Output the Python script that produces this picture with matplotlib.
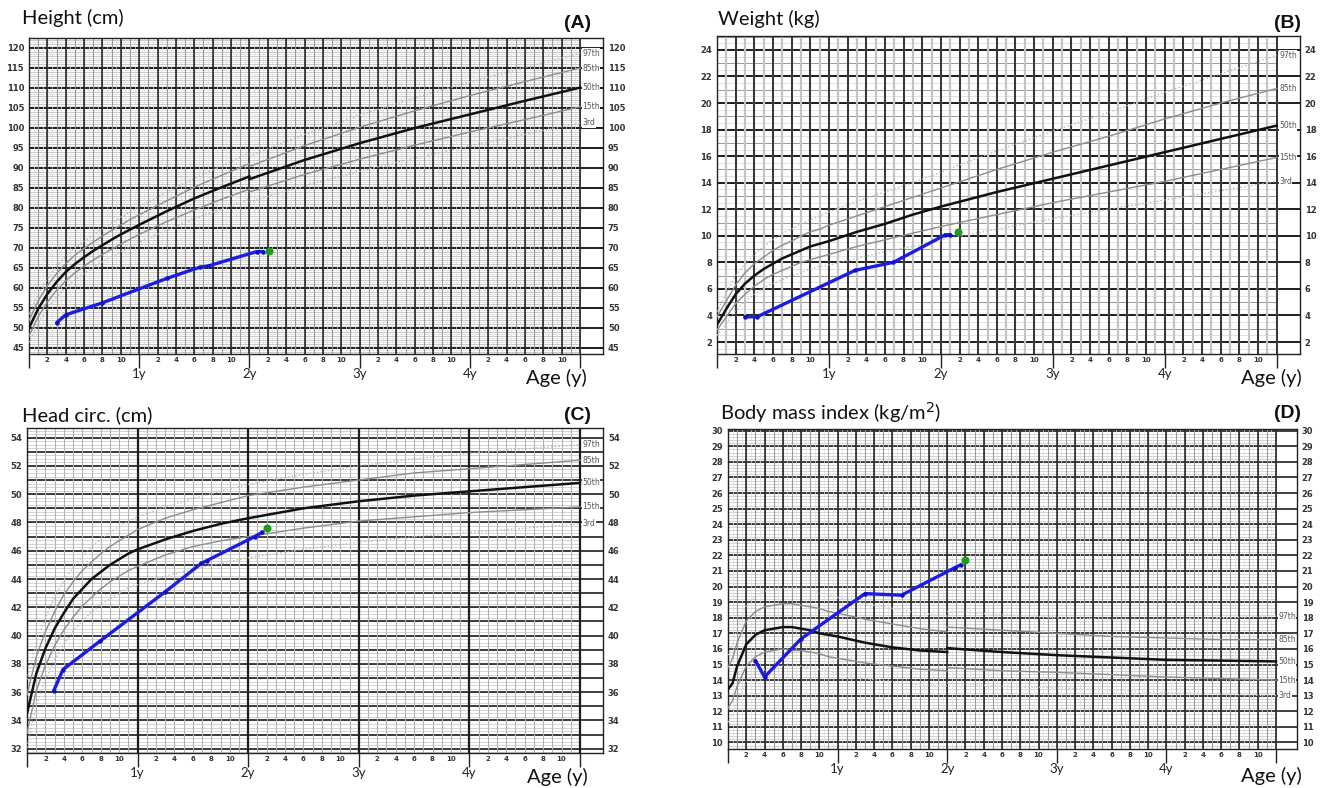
import matplotlib
matplotlib.use("Agg")
import matplotlib.pyplot as plt
import numpy as np

plt.rcParams['font.family'] = ['DejaVu Sans']

# ------------------------------------------------------------------ data
PCT_NAMES = ['97th', '85th', '50th', '15th', '3rd']

# Height (cm): recumbent length 0-24 months, standing height 24-60 months
LEN_AGE = [0, 1, 2, 3, 4, 5, 6, 7, 8, 9, 10, 11, 12, 15, 18, 21, 24]
LEN_P97 = [53.4, 58.4, 62.2, 65.3, 67.8, 69.9, 71.6, 73.2, 74.7, 76.2, 77.6, 78.9, 80.2, 83.8, 87.3, 90.5, 93.6]
LEN_P85 = [51.8, 56.7, 60.5, 63.5, 66.0, 68.1, 69.8, 71.4, 72.9, 74.3, 75.6, 77.0, 78.2, 81.7, 85.1, 88.1, 91.0]
LEN_P50 = [49.9, 54.7, 58.4, 61.4, 63.9, 65.9, 67.6, 69.2, 70.6, 72.0, 73.3, 74.5, 75.7, 79.1, 82.3, 85.1, 87.8]
LEN_P15 = [47.9, 52.7, 56.4, 59.3, 61.7, 63.7, 65.4, 66.9, 68.3, 69.6, 70.9, 72.1, 73.3, 76.5, 79.4, 82.1, 84.6]
LEN_P3 = [46.3, 51.1, 54.7, 57.6, 60.0, 61.9, 63.6, 65.1, 66.5, 67.7, 69.0, 70.2, 71.3, 74.4, 77.2, 79.7, 82.1]
HGT_AGE = [24, 30, 36, 42, 48, 54, 60]
HGT_P97 = [92.9, 98.3, 103.1, 107.4, 111.4, 115.0, 118.6]
HGT_P85 = [90.3, 95.5, 100.1, 104.2, 108.0, 111.5, 114.9]
HGT_P50 = [87.1, 91.9, 96.1, 99.9, 103.3, 106.7, 110.0]
HGT_P15 = [83.9, 88.3, 92.1, 95.6, 98.9, 102.0, 105.2]
HGT_P3 = [81.4, 85.5, 89.1, 92.4, 95.4, 98.3, 101.2]
PT_HT_AGE = [3.0, 4.0, 8.0, 15.0, 18.6, 19.5, 24.8, 25.5]
PT_HT = [51.2, 53.2, 56.2, 62.3, 65.1, 65.4, 69.0, 69.0]
LAST_HT_AGE, LAST_HT = 26.1, 69.1
HT_TICKS = [45, 50, 55, 60, 65, 70, 75, 80, 85, 90, 95, 100, 105, 110, 115, 120]

# Weight (kg)
WT_AGE = [0, 1, 2, 3, 4, 5, 6, 7, 8, 9, 10, 11, 12, 15, 18, 21, 24, 30, 36, 42, 48, 54, 60]
WT_P97 = [4.3, 5.7, 7.0, 7.9, 8.6, 9.2, 9.7, 10.2, 10.5, 10.9, 11.2, 11.5, 11.8, 12.6, 13.3, 14.0, 14.8, 16.4, 17.9, 19.3, 20.8, 22.2, 23.6]
WT_P85 = [3.9, 5.1, 6.3, 7.2, 7.9, 8.4, 8.9, 9.3, 9.6, 10.0, 10.3, 10.5, 10.8, 11.5, 12.2, 12.9, 13.6, 15.0, 16.3, 17.5, 18.8, 20.0, 21.1]
WT_P50 = [3.3, 4.5, 5.6, 6.4, 7.0, 7.5, 7.9, 8.3, 8.6, 8.9, 9.2, 9.4, 9.6, 10.3, 10.9, 11.6, 12.2, 13.3, 14.3, 15.3, 16.3, 17.3, 18.3]
WT_P15 = [2.9, 3.9, 4.9, 5.6, 6.2, 6.7, 7.1, 7.4, 7.7, 8.0, 8.2, 8.4, 8.6, 9.2, 9.7, 10.2, 10.7, 11.6, 12.5, 13.3, 14.1, 15.0, 15.9]
WT_P3 = [2.5, 3.4, 4.4, 5.1, 5.6, 6.1, 6.4, 6.7, 7.0, 7.2, 7.5, 7.7, 7.8, 8.3, 8.8, 9.2, 9.7, 10.5, 11.3, 12.0, 12.7, 13.4, 14.1]
PT_WT_AGE = [3.0, 4.3, 14.8, 18.9, 24.4, 25.0]
PT_WT = [3.9, 3.9, 7.4, 8.0, 10.05, 10.1]
LAST_WT_AGE, LAST_WT = 25.8, 10.3
WT_TICKS = [2, 4, 6, 8, 10, 12, 14, 16, 18, 20, 22, 24]

# Head circumference (cm)
HC_AGE = [0, 1, 2, 3, 4, 5, 6, 7, 8, 9, 10, 11, 12, 15, 18, 21, 24, 30, 36, 42, 48, 54, 60]
HC_P97 = [36.9, 39.5, 41.3, 42.7, 43.9, 44.8, 45.6, 46.3, 46.8, 47.3, 47.7, 48.1, 48.4, 49.1, 49.7, 50.2, 50.7, 51.4, 52.0, 52.5, 52.9, 53.2, 53.5]
HC_P85 = [35.8, 38.5, 40.3, 41.7, 42.9, 43.8, 44.6, 45.2, 45.8, 46.3, 46.7, 47.1, 47.5, 48.3, 48.9, 49.4, 49.9, 50.5, 51.0, 51.5, 51.8, 52.1, 52.4]
HC_P50 = [34.5, 37.3, 39.1, 40.5, 41.6, 42.6, 43.3, 44.0, 44.5, 45.0, 45.4, 45.8, 46.1, 46.8, 47.4, 47.9, 48.3, 49.0, 49.5, 49.9, 50.2, 50.5, 50.8]
HC_P15 = [33.1, 36.1, 37.9, 39.3, 40.4, 41.3, 42.1, 42.7, 43.3, 43.8, 44.2, 44.6, 44.9, 45.7, 46.3, 46.7, 47.0, 47.6, 48.1, 48.4, 48.7, 48.9, 49.1]
HC_P3 = [32.1, 35.1, 36.9, 38.3, 39.4, 40.3, 41.0, 41.7, 42.2, 42.6, 43.0, 43.4, 43.6, 44.2, 44.7, 45.1, 45.5, 46.1, 46.6, 47.0, 47.3, 47.6, 47.9]
PT_HC_AGE = [2.9, 3.9, 7.9, 15.0, 18.9, 19.5, 24.7, 25.5]
PT_HC = [36.1, 37.6, 39.6, 43.1, 45.1, 45.3, 47.0, 47.3]
LAST_HC_AGE, LAST_HC = 26.0, 47.6
HC_TICKS = [32, 34, 36, 38, 40, 42, 44, 46, 48, 50, 52, 54]

# Body mass index (kg/m2): length-based 0-24, height-based 24-60
BMIL_AGE = [0, 0.5, 1, 2, 3, 4, 5, 6, 7, 8, 9, 10, 11, 12, 15, 18, 21, 24]
BMIL_P97 = [15.6, 16.3, 17.3, 18.8, 19.4, 19.7, 19.8, 19.9, 19.9, 19.9, 19.8, 19.6, 19.5, 19.3, 18.9, 18.6, 18.3, 18.1]
BMIL_P85 = [14.8, 15.4, 16.4, 17.8, 18.4, 18.7, 18.8, 18.9, 18.9, 18.8, 18.7, 18.6, 18.4, 18.3, 17.9, 17.6, 17.3, 17.1]
BMIL_P50 = [13.4, 13.8, 14.9, 16.3, 16.9, 17.2, 17.3, 17.4, 17.4, 17.3, 17.2, 17.0, 16.9, 16.8, 16.4, 16.1, 15.9, 15.8]
BMIL_P15 = [12.2, 12.7, 13.6, 14.9, 15.5, 15.8, 15.9, 16.0, 15.9, 15.9, 15.8, 15.7, 15.5, 15.4, 15.1, 14.9, 14.7, 14.6]
BMIL_P3 = [11.3, 11.8, 12.6, 13.9, 14.5, 14.7, 14.9, 14.9, 14.9, 14.9, 14.8, 14.7, 14.6, 14.4, 14.1, 13.9, 13.7, 13.6]
BMIH_AGE = [24, 30, 36, 42, 48, 54, 60]
BMIH_P97 = [18.4, 18.2, 18.0, 17.9, 17.9, 18.0, 18.1]
BMIH_P85 = [17.4, 17.2, 17.0, 16.8, 16.7, 16.6, 16.6]
BMIH_P50 = [16.05, 15.8, 15.6, 15.45, 15.3, 15.25, 15.2]
BMIH_P15 = [14.8, 14.6, 14.5, 14.35, 14.2, 14.1, 14.0]
BMIH_P3 = [13.8, 13.6, 13.5, 13.35, 13.2, 13.1, 13.0]
PT_BMI_AGE = [3.0, 4.0, 8.0, 15.0, 19.0, 24.8, 25.5]
PT_BMI = [15.25, 14.2, 16.65, 19.55, 19.45, 21.2, 21.4]
LAST_BMI_AGE, LAST_BMI = 26.0, 21.7
BMI_TICKS = list(range(10, 31))

MONTH_LABELS = ['2', '4', '6', '8', '10']
YEAR_LABELS = ['', '1y', '2y', '3y', '4y', '']

# ------------------------------------------------------------------ figure
W, H = 1320, 788
fig = plt.figure(figsize=(W / 100, H / 100), dpi=100)


def add_ax(l, t, r, b):
    return fig.add_axes([l / W, 1 - b / H, (r - l) / W, (b - t) / H])


PCT_STYLE = {
    '97th': dict(color='#b8b8b8', lw=1.0, ls=':'),
    '85th': dict(color='#8c8c8c', lw=1.0, ls='-'),
    '50th': dict(color='#111111', lw=1.8, ls='-'),
    '15th': dict(color='#8c8c8c', lw=1.0, ls='-'),
    '3rd': dict(color='#b8b8b8', lw=1.0, ls=':'),
}


def setup(ax, ylim, xmax, hlev, vlev, yticks):
    ax.set_xlim(0, xmax)
    ax.set_ylim(*ylim)
    ylo, yhi = ylim
    z = 1
    for step, color, lw, full in hlev:
        vals = np.arange(np.ceil(ylo / step) * step, yhi + 1e-9, step)
        ax.hlines(vals, 0, xmax if full else 60, colors=color, lw=lw, zorder=z)
        z += 0.1
    for step, color, lw in vlev:
        vals = np.arange(step, 60 + 1e-9, step)
        ax.vlines(vals, ylo, yhi, colors=color, lw=lw, zorder=z)
        z += 0.1
    for s in ax.spines.values():
        s.set_color('#222222')
        s.set_linewidth(1.0)
    ax.set_yticks(yticks)
    ax.set_yticklabels([str(v) for v in yticks])
    ax.tick_params(axis='y', length=0, labelleft=True, labelright=True,
                   labelsize=6, pad=3.5, labelcolor='#333333')
    for t in ax.yaxis.get_major_ticks():
        t.label1.set_fontweight('bold')
        t.label2.set_fontweight('bold')
    ax.set_xticks([0, 12, 24, 36, 48, 60])
    ax.set_xticklabels(YEAR_LABELS, fontsize=9.5, family='Lato', color='#222222')
    ax.tick_params(axis='x', which='major', length=10, width=1.0, color='#222222', pad=0.0)
    minor = [12 * y + int(m) for y in range(5) for m in MONTH_LABELS]
    ax.set_xticks(minor, minor=True)
    ax.set_xticklabels(MONTH_LABELS * 5, minor=True, fontsize=5,
                       fontweight='bold', color='#333333')
    ax.tick_params(axis='x', which='minor', length=0, pad=2.5)


def percentiles(ax, ages, series, faint=False):
    for name, vals in zip(PCT_NAMES, series):
        st = dict(PCT_STYLE[name])
        if faint and name in ('97th', '3rd'):
            st['color'] = '#d0d0d0'
        ax.plot(ages, vals, zorder=5, **st)


def pct_labels(ax, series):
    for name, vals in zip(PCT_NAMES, series):
        ax.text(60.25, vals[-1], name, fontsize=5.5, color='#555555',
                ha='left', va='center', zorder=6,
                bbox=dict(boxstyle='square,pad=0.05', fc='white', ec='none'))


def patient(ax, ages, vals, la, lv):
    ax.plot(ages, vals, color='#1c1ce8', lw=2.4, marker='o', ms=3.2,
            mfc='#1010c0', mec='none', zorder=8, solid_capstyle='round')
    ax.plot([la], [lv], 'o', color='#1f9a1f', ms=4.8, zorder=9)


BLK, MID, LGT, VLT = '#1e1e1e', '#9a9a9a', '#c4c4c4', '#dddddd'

# ---------------- (A) Height
axA = add_ax(29, 38, 603, 354)
setup(axA, (43.4, 122.4), 62.5,
      [(0.5, VLT, 0.5, False), (1, LGT, 0.6, False), (5, BLK, 1.4, True)],
      [(0.5, VLT, 0.5), (1, MID, 0.8), (2, BLK, 1.1)], HT_TICKS)
percentiles(axA, LEN_AGE, [LEN_P97, LEN_P85, LEN_P50, LEN_P15, LEN_P3])
percentiles(axA, HGT_AGE, [HGT_P97, HGT_P85, HGT_P50, HGT_P15, HGT_P3])
pct_labels(axA, [HGT_P97, HGT_P85, HGT_P50, HGT_P15, HGT_P3])
patient(axA, PT_HT_AGE, PT_HT, LAST_HT_AGE, LAST_HT)

# ---------------- (B) Weight
axB = add_ax(717, 36, 1300, 354)
setup(axB, (1.1, 25.05), 62.5,
      [(0.5, VLT, 0.6, False), (1, MID, 0.7, False), (2, BLK, 1.4, True)],
      [(1, LGT, 1.6), (2, BLK, 1.2)], WT_TICKS)
percentiles(axB, WT_AGE, [WT_P97, WT_P85, WT_P50, WT_P15, WT_P3])
pct_labels(axB, [WT_P97, WT_P85, WT_P50, WT_P15, WT_P3])
patient(axB, PT_WT_AGE, PT_WT, LAST_WT_AGE, LAST_WT)

# ---------------- (C) Head circumference
axC = add_ax(27, 428, 603, 753)
setup(axC, (31.7, 54.68), 62.5,
      [(0.25, LGT, 0.5, False), (1, BLK, 1.2, True)],
      [(1, '#b4b4b4', 0.8), (12, BLK, 1.6)], HC_TICKS)
percentiles(axC, HC_AGE, [HC_P97, HC_P85, HC_P50, HC_P15, HC_P3])
pct_labels(axC, [HC_P97, HC_P85, HC_P50, HC_P15, HC_P3])
patient(axC, PT_HC_AGE, PT_HC, LAST_HC_AGE, LAST_HC)

# ---------------- (D) BMI
axD = add_ax(728, 429, 1297, 749)
setup(axD, (9.58, 30.11), 62.3,
      [(0.2, LGT, 0.5, False), (1, BLK, 1.2, True)],
      [(0.5, VLT, 0.5), (1, MID, 0.8), (2, BLK, 1.1)], BMI_TICKS)
percentiles(axD, BMIL_AGE, [BMIL_P97, BMIL_P85, BMIL_P50, BMIL_P15, BMIL_P3], faint=True)
percentiles(axD, BMIH_AGE, [BMIH_P97, BMIH_P85, BMIH_P50, BMIH_P15, BMIH_P3], faint=True)
pct_labels(axD, [BMIH_P97, BMIH_P85, BMIH_P50, BMIH_P15, BMIH_P3])
patient(axD, PT_BMI_AGE, PT_BMI, LAST_BMI_AGE, LAST_BMI)

# ---------------- titles and texts
def ftext(x, y, s, **kw):
    fig.text(x / W, 1 - y / H, s, **kw)

TKW = dict(fontsize=14.5, family='Lato', color='#111111', va='baseline', ha='left')
PKW = dict(fontsize=14, family='Liberation Sans', fontweight='bold', color='#111111',
           va='baseline', ha='right')
AKW = dict(fontsize=14.5, family='Lato', color='#111111', va='baseline', ha='right')

ftext(22, 24, 'Height (cm)', **TKW)
ftext(718, 25, 'Weight (kg)', **TKW)
ftext(22, 421, 'Head circ. (cm)', **TKW)
ftext(720, 420, 'Body mass index (kg/m$^2$)', **TKW)

ftext(591, 28, '(A)', **PKW)
ftext(1301, 28, '(B)', **PKW)
ftext(591, 420, '(C)', **PKW)
ftext(1301, 418, '(D)', **PKW)

ftext(587, 384, 'Age (y)', **AKW)
ftext(1302, 384, 'Age (y)', **AKW)
ftext(588, 783, 'Age (y)', **AKW)
ftext(1302, 782, 'Age (y)', **AKW)

fig.savefig('out.png', dpi=100, facecolor='white')
